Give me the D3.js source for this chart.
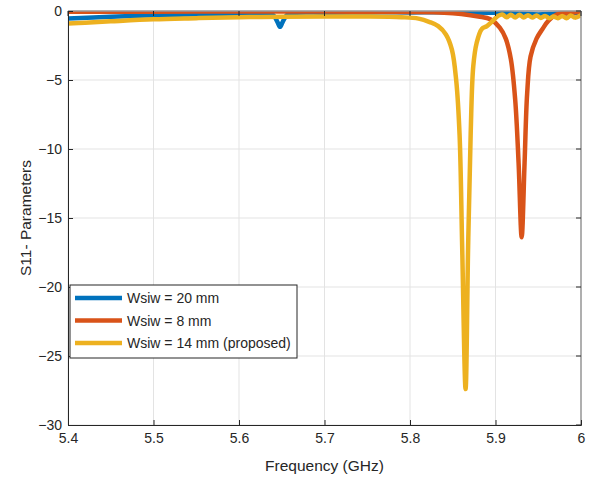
<!DOCTYPE html>
<html>
<head>
<meta charset="utf-8">
<script src="https://cdn.jsdelivr.net/npm/d3@7"></script>
<style>
  body { margin: 0; background: #fff; }
  svg text { font-family: "Liberation Sans", Arial, Helvetica, sans-serif; fill: #262626; }
</style>
</head>
<body>
<svg id="chart" width="592" height="479"></svg>
<script>
// frequency (GHz) and S11 (dB)
const blueF = [5.4, 5.45, 5.5, 5.55, 5.6, 5.63, 5.64, 5.645, 5.648, 5.651, 5.656, 5.665, 5.7, 5.75, 5.8, 5.85, 5.9, 5.93, 5.95, 5.97, 6.0];
const blueS = [-0.55, -0.42, -0.32, -0.24, -0.18, -0.16, -0.3, -0.8, -1.15, -0.8, -0.3, -0.14, -0.12, -0.1, -0.1, -0.1, -0.12, -0.2, -0.25, -0.2, -0.15];

const orangeF = [5.4, 5.5, 5.6, 5.7, 5.8, 5.84, 5.86, 5.88, 5.894, 5.905, 5.912, 5.918, 5.923, 5.927, 5.9306, 5.934, 5.937, 5.941, 5.948, 5.955, 5.962, 5.972, 5.985, 6.0];
const orangeS = [-0.05, -0.05, -0.04, -0.04, -0.07, -0.12, -0.22, -0.4, -0.6, -1.2, -2.0, -3.5, -6.4, -11, -16.4, -11, -6, -3.3, -2.0, -1.3, -0.7, -0.25, -0.15, -0.05];

const yellowF = [5.4, 5.42, 5.45, 5.5, 5.55, 5.6, 5.65, 5.7, 5.75, 5.79, 5.81, 5.823, 5.833, 5.842, 5.849, 5.854, 5.858, 5.861, 5.865, 5.868, 5.871, 5.874, 5.878, 5.884, 5.89, 5.897, 5.903,
  5.908, 5.913, 5.918, 5.923, 5.928, 5.933, 5.938, 5.943, 5.948, 5.953, 5.958, 5.963, 5.968, 5.973, 5.978, 5.983, 5.988, 5.993, 6.0];
const yellowS = [-0.9, -0.85, -0.75, -0.6, -0.52, -0.45, -0.42, -0.4, -0.4, -0.45, -0.55, -0.8, -1.1, -1.7, -2.8, -5, -9, -17, -27.4, -17, -8.8, -4, -2.3, -1.3, -1.1, -0.7, -0.35,
  -0.25, -0.45, -0.28, -0.47, -0.28, -0.47, -0.3, -0.48, -0.32, -0.5, -0.36, -0.52, -0.4, -0.52, -0.36, -0.52, -0.32, -0.48, -0.3];

const xTicks = [5.4, 5.5, 5.6, 5.7, 5.8, 5.9, 6];
const yTicks = [0, -5, -10, -15, -20, -25, -30];

const series = [
  { name: "Wsiw = 20 mm", color: "#0072BD", f: blueF, s: blueS },
  { name: "Wsiw = 8 mm", color: "#D95319", f: orangeF, s: orangeS },
  { name: "Wsiw = 14 mm (proposed)", color: "#EDB120", f: yellowF, s: yellowS }
];

const margin = { top: 11, right: 11, bottom: 54, left: 68 };
const svg = d3.select("#chart");
const W = +svg.attr("width"), H = +svg.attr("height");
const w = W - margin.left - margin.right, h = H - margin.top - margin.bottom;

const x = d3.scaleLinear().domain([5.4, 6]).range([0, w]);
const y = d3.scaleLinear().domain([-30, 0]).range([h, 0]);

const g = svg.append("g").attr("transform", `translate(${margin.left},${margin.top})`);

// grid
g.selectAll(".gx").data(xTicks).enter().append("line")
  .attr("x1", d => x(d)).attr("x2", d => x(d)).attr("y1", 0).attr("y2", h)
  .attr("stroke", "#e3e3e3").attr("stroke-width", 1);
g.selectAll(".gy").data(yTicks).enter().append("line")
  .attr("y1", d => y(d)).attr("y2", d => y(d)).attr("x1", 0).attr("x2", w)
  .attr("stroke", "#e3e3e3").attr("stroke-width", 1);

// clip
svg.append("defs").append("clipPath").attr("id", "clip")
  .append("rect").attr("width", w).attr("height", h);

const line = d3.line()
  .x(d => x(d[0]))
  .y(d => y(d[1]))
  .curve(d3.curveCatmullRom.alpha(0.5));

const lines = g.append("g").attr("clip-path", "url(#clip)");
series.forEach(sr => {
  lines.append("path")
    .datum(sr.f.map((f, i) => [f, sr.s[i]]))
    .attr("fill", "none")
    .attr("stroke", sr.color)
    .attr("stroke-width", 4.5)
    .attr("stroke-linejoin", "round")
    .attr("stroke-linecap", "round")
    .attr("d", line);
});

// box: top and right
g.append("line").attr("x1", 0).attr("x2", w).attr("y1", 0).attr("y2", 0)
  .attr("stroke", "#999").attr("stroke-width", 1.5);
g.append("line").attr("x1", w).attr("x2", w).attr("y1", 0).attr("y2", h)
  .attr("stroke", "#999").attr("stroke-width", 1.5);

// axes
const xAxis = g.append("g").attr("transform", `translate(0,${h})`)
  .call(d3.axisBottom(x).tickValues(xTicks).tickSize(-5).tickPadding(8).tickFormat(d3.format("")));
const yAxis = g.append("g")
  .call(d3.axisLeft(y).tickValues(yTicks).tickSize(-5).tickPadding(6).tickFormat(d3.format("")));
[xAxis, yAxis].forEach(a => {
  a.select(".domain").attr("stroke", "#262626");
  a.selectAll(".tick line").attr("stroke", "#262626");
  a.selectAll(".tick text").attr("font-size", 14).attr("fill", "#262626")
    .style("font-family", "'Liberation Sans', Arial, sans-serif");
});
// ticks on top and right
g.selectAll(".tt").data(xTicks).enter().append("line")
  .attr("x1", d => x(d)).attr("x2", d => x(d)).attr("y1", 0).attr("y2", 5).attr("stroke", "#262626");
g.selectAll(".tr").data(yTicks).enter().append("line")
  .attr("y1", d => y(d)).attr("y2", d => y(d)).attr("x1", w).attr("x2", w - 5).attr("stroke", "#262626");

// labels
svg.append("text").attr("x", margin.left + w / 2).attr("y", 471)
  .attr("text-anchor", "middle").attr("font-size", 15.5).text("Frequency (GHz)");
svg.append("text").attr("transform", `translate(31,${margin.top + h / 2}) rotate(-90)`)
  .attr("text-anchor", "middle").attr("font-size", 15.5).text("S11- Parameters");

// legend
const leg = svg.append("g").attr("transform", "translate(70,285)");
leg.append("rect").attr("width", 227).attr("height", 73)
  .attr("fill", "#fff").attr("stroke", "#262626").attr("stroke-width", 1);
series.forEach((sr, i) => {
  const yy = 13 + i * 22.5;
  leg.append("line").attr("x1", 5).attr("x2", 52).attr("y1", yy).attr("y2", yy)
    .attr("stroke", sr.color).attr("stroke-width", 4.5);
  leg.append("text").attr("x", 57).attr("y", yy + 5).attr("font-size", 14).text(sr.name);
});
</script>
</body>
</html>
